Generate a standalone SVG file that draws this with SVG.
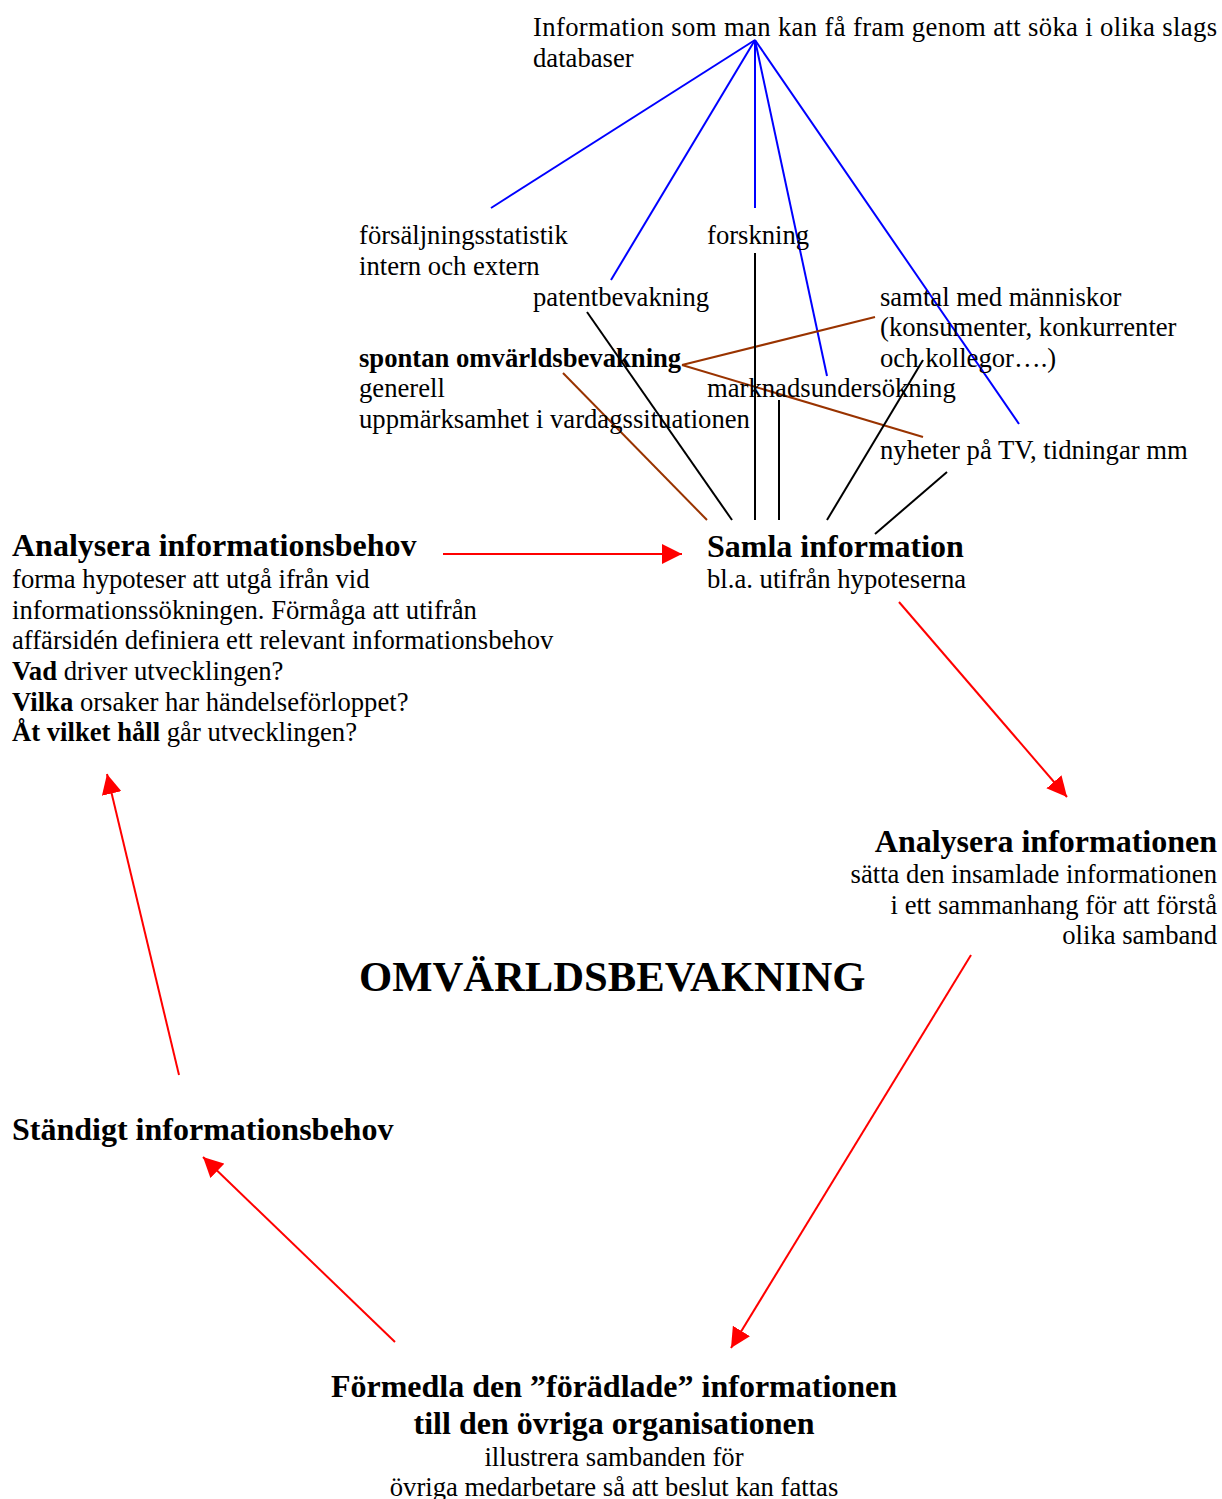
<svg xmlns="http://www.w3.org/2000/svg" width="1222" height="1499" viewBox="0 0 1222 1499">
<style>
text{font-family:"Liberation Serif","Times New Roman",serif;fill:#000}
.t{font-size:26.67px}
.h{font-size:32px;font-weight:bold}
.b{font-weight:bold}
.big{font-size:42.67px;font-weight:bold}
.blue{stroke:#0000ff;stroke-width:2;fill:none}
.brown{stroke:#993300;stroke-width:2;fill:none}
.black{stroke:#000;stroke-width:2;fill:none}
.red{stroke:#ff0000;stroke-width:2;fill:none;marker-end:url(#ah)}
</style>
<defs>
<marker id="ah" markerUnits="userSpaceOnUse" markerWidth="20" markerHeight="20" refX="20" refY="10" orient="auto" viewBox="0 0 20 20">
<path d="M0,0 L20,10 L0,20 z" fill="#ff0000"/>
</marker>
</defs>
<rect width="1222" height="1499" fill="#fff"/>
<g id="connectors">
<line class="blue" x1="755" y1="40" x2="491" y2="208"/>
<line class="blue" x1="755" y1="40" x2="611" y2="280"/>
<line class="blue" x1="755" y1="40" x2="755" y2="208"/>
<line class="blue" x1="755" y1="40" x2="827" y2="376"/>
<line class="blue" x1="755" y1="40" x2="1019" y2="424"/>
<line class="brown" x1="682" y1="365" x2="875" y2="317"/>
<line class="brown" x1="682" y1="365" x2="923" y2="437"/>
<line class="brown" x1="563" y1="373" x2="707" y2="520"/>
<line class="black" x1="587" y1="312" x2="732" y2="520"/>
<line class="black" x1="755" y1="253" x2="755" y2="520"/>
<line class="black" x1="779" y1="400" x2="779" y2="520"/>
<line class="black" x1="923" y1="360" x2="827" y2="520"/>
<line class="black" x1="947" y1="472" x2="875" y2="534"/>
<line class="red" x1="443" y1="554" x2="682" y2="554"/>
<line class="red" x1="899" y1="602" x2="1067" y2="797"/>
<line class="red" x1="971" y1="955" x2="731" y2="1348"/>
<line class="red" x1="395" y1="1342" x2="203" y2="1157"/>
<line class="red" x1="179" y1="1075" x2="107" y2="774"/>
</g>
<g id="databaser">
<text class="t" x="533" y="36" textLength="684" lengthAdjust="spacing">Information som man kan få fram genom att söka i olika slags</text>
<text class="t" x="533" y="67">databaser</text>
</g>
<g id="forsaljning">
<text class="t" x="359" y="244">försäljningsstatistik</text>
<text class="t" x="359" y="275">intern och extern</text>
</g>
<g id="forskning"><text class="t" x="707" y="244">forskning</text></g>
<g id="patent"><text class="t" x="533" y="306">patentbevakning</text></g>
<g id="samtal">
<text class="t" x="880" y="306">samtal med människor</text>
<text class="t" x="880" y="336">(konsumenter, konkurrenter</text>
<text class="t" x="880" y="367">och kollegor….)</text>
</g>
<g id="spontan">
<text class="t b" x="359" y="367">spontan omvärldsbevakning</text>
<text class="t" x="359" y="397">generell</text>
<text class="t" x="359" y="428">uppmärksamhet i vardagssituationen</text>
</g>
<g id="marknad"><text class="t" x="707" y="397">marknadsundersökning</text></g>
<g id="nyheter"><text class="t" x="880" y="459">nyheter på TV, tidningar mm</text></g>
<g id="analysera-behov">
<text class="h" x="12" y="556">Analysera informationsbehov</text>
<text class="t" x="12" y="588">forma hypoteser att utgå ifrån vid</text>
<text class="t" x="12" y="619">informationssökningen. Förmåga att utifrån</text>
<text class="t" x="12" y="649">affärsidén definiera ett relevant informationsbehov</text>
<text class="t" x="12" y="680"><tspan class="b">Vad</tspan> driver utvecklingen?</text>
<text class="t" x="12" y="711"><tspan class="b">Vilka</tspan> orsaker har händelseförloppet?</text>
<text class="t" x="12" y="741"><tspan class="b">Åt vilket håll</tspan> går utvecklingen?</text>
</g>
<g id="samla">
<text class="h" x="707" y="557">Samla information</text>
<text class="t" x="707" y="588">bl.a. utifrån hypoteserna</text>
</g>
<g id="analysera-info" text-anchor="end">
<text class="h" x="1217" y="852">Analysera informationen</text>
<text class="t" x="1217" y="883">sätta den insamlade informationen</text>
<text class="t" x="1217" y="914">i ett sammanhang för att förstå</text>
<text class="t" x="1217" y="944">olika samband</text>
</g>
<g id="title"><text class="big" x="359" y="991">OMVÄRLDSBEVAKNING</text></g>
<g id="standigt"><text class="h" x="12" y="1140">Ständigt informationsbehov</text></g>
<g id="formedla" text-anchor="middle">
<text class="h" x="614" y="1397">Förmedla den ”förädlade” informationen</text>
<text class="h" x="614" y="1434">till den övriga organisationen</text>
<text class="t" x="614" y="1466">illustrera sambanden för</text>
<text class="t" x="614" y="1496">övriga medarbetare så att beslut kan fattas</text>
</g>
</svg>
